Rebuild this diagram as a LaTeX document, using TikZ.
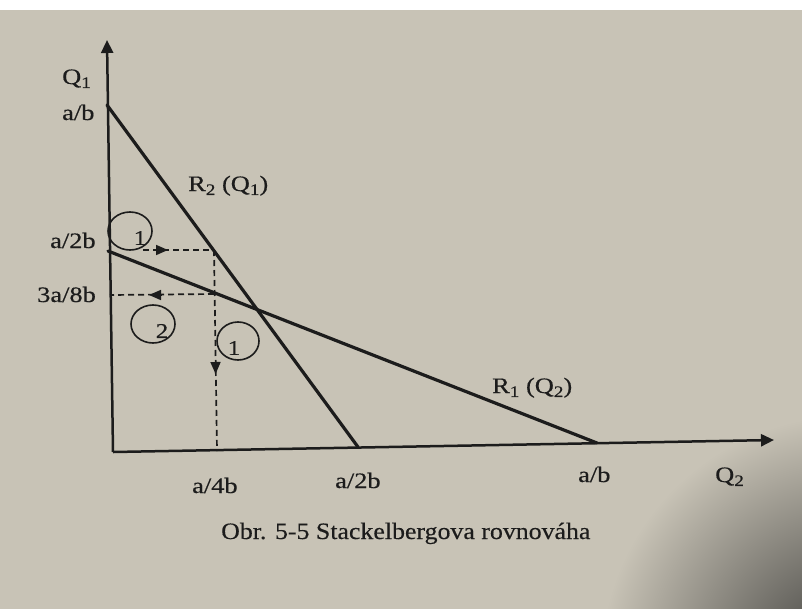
\documentclass[tikz,border=0pt]{standalone}
\usepackage{fontspec}
\setmainfont{Liberation Serif}
\newfontfamily\lblfont[FakeStretch=1.2,FakeBold=0.5]{Liberation Serif}
\newfontfamily\capfont[FakeStretch=1.1,FakeBold=0.4]{Liberation Serif}
\usetikzlibrary{arrows.meta}
\definecolor{paper}{HTML}{C8C3B6}
\definecolor{shadow}{HTML}{3A3A38}
\definecolor{ink}{HTML}{1C1C1C}
\newcommand\sbs[1]{\raisebox{-0.18em}{\fontsize{16}{16}\selectfont #1}}
\begin{document}
\begin{tikzpicture}[x=1pt,y=-1pt,
  lbl/.style={font=\lblfont\fontsize{22}{24}\selectfont, inner sep=0pt, anchor=base west, text=ink},
  numlbl/.style={font=\lblfont\fontsize{21}{24}\selectfont, inner sep=0pt, anchor=center, text=ink},
  caption/.style={font=\capfont\fontsize{23.5}{26}\selectfont, inner sep=0pt, anchor=base west, text=ink},
  axis/.style={draw=ink, line width=2.5pt, -{Triangle[length=13pt,width=12pt]}},
  resp/.style={draw=ink, line width=3.2pt, line cap=round},
  guide/.style={draw=ink, line width=1.7pt, dash pattern=on 6pt off 4pt},
  guidetip/.style={draw=ink, line width=1.7pt, -{Triangle[length=12pt,width=10pt]}},
  ring/.style={draw=ink, line width=1.6pt}]
\useasboundingbox (0,0) rectangle (802,608);
% paper
\fill[paper] (-2,-2) rectangle (804,610);
\fill[white] (-2,-2) rectangle (804,10);
\begin{scope}
  \clip (-2,10) rectangle (804,610);
  \shade[inner color=shadow, outer color=paper] (850,665) circle (250pt);
\end{scope}

% coordinates
\coordinate (O) at (113,452);
\coordinate (ytip) at (107,40);
\coordinate (xtip) at (774,440);
\coordinate (r2a) at (107,105);
\coordinate (r2b) at (358,447);
\coordinate (r1a) at (108,251);
\coordinate (r1b) at (597,443);
\coordinate (g1s) at (143,250);
\coordinate (g1e) at (214,250);
\coordinate (g2e) at (217,451);
\coordinate (g3s) at (214,294);
\coordinate (g3e) at (110,295);
\coordinate (t1s) at (156,250);
\coordinate (t1e) at (168,250);
\coordinate (t2s) at (215.5,362);
\coordinate (t2e) at (215.6,374);
\coordinate (t3s) at (162,295);
\coordinate (t3e) at (149,295);

% axes
\draw[axis] (O) -- (ytip);
\draw[axis] (O) -- (xtip);

% reaction curves
\draw[resp] (r2a) -- (r2b);
\draw[resp] (r1a) -- (r1b);

% dashed guides
\draw[guide] (g1s) -- (g1e);
\draw[guide] (g1e) -- (g2e);
\draw[guide] (g3s) -- (g3e);
\draw[guidetip] (t1s) -- (t1e);
\draw[guidetip] (t2s) -- (t2e);
\draw[guidetip] (t3s) -- (t3e);

% circled step numbers
\draw[ring] (130,231) ellipse [x radius=22pt, y radius=19pt];
\node[numlbl] (n1) at (140,238) {1};
\draw[ring] (153,324) ellipse [x radius=22pt, y radius=19pt];
\node[numlbl] (n2) at (162,331) {2};
\draw[ring] (238,341) ellipse [x radius=21pt, y radius=19pt];
\node[numlbl] (n3) at (234,348) {1};

% labels
\node[lbl] (lq1) at (62,84) {Q\sbs{1}};
\node[lbl] (lab) at (62,120) {a/b};
\node[lbl] (la2b) at (50,248) {a/2b};
\node[lbl] (l38) at (37,302) {3a/8b};
\node[lbl] (lr2) at (188,191) {R\sbs{2} (Q\sbs{1})};
\node[lbl] (lr1) at (492,393) {R\sbs{1} (Q\sbs{2})};
\node[lbl] (la4x) at (192,493) {a/4b};
\node[lbl] (la2x) at (335,488) {a/2b};
\node[lbl] (labx) at (578,482) {a/b};
\node[lbl] (lq2) at (715,482) {Q\sbs{2}};
\node[caption] (cap) at (221,539) {Obr. 5-5 Stackelbergova rovnováha};
\end{tikzpicture}
\end{document}
